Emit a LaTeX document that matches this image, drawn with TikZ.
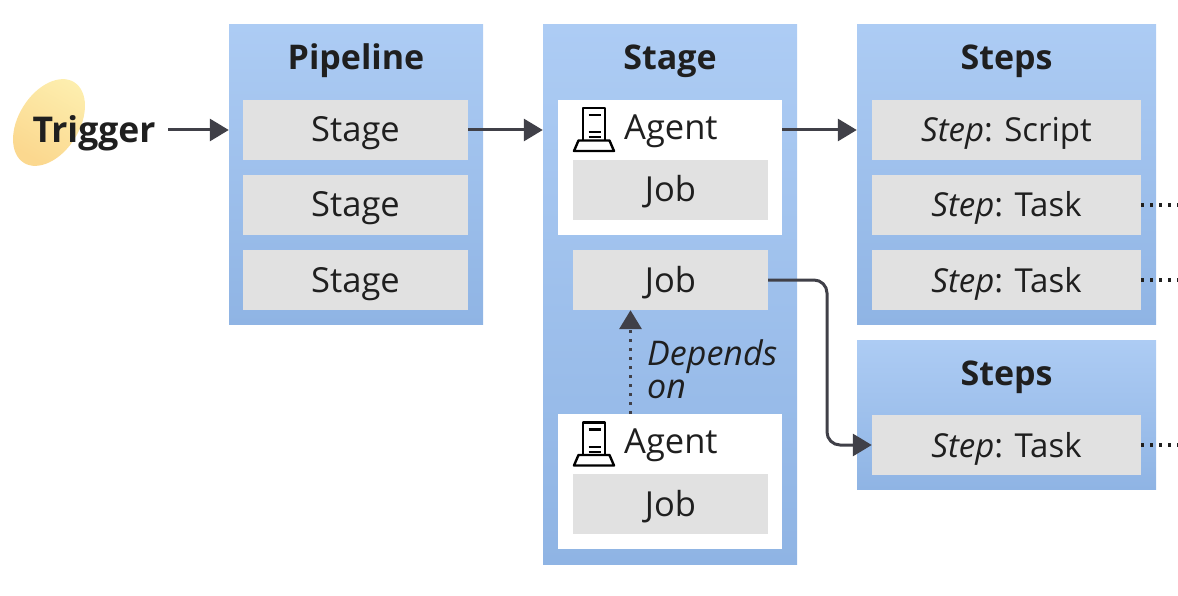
\documentclass[tikz,border=0pt]{standalone}
\usepackage{fontspec}
\setmainfont{Open Sans}
\usetikzlibrary{arrows.meta,shapes.geometric}
\definecolor{panelTop}{HTML}{ADCCF4}
\definecolor{panelBot}{HTML}{8FB4E4}
\definecolor{boxGray}{HTML}{E1E1E1}
\definecolor{inkDark}{HTML}{1F1F1F}
\definecolor{flowGray}{HTML}{404048}
\definecolor{blobLight}{HTML}{FDEEAE}
\definecolor{blobDeep}{HTML}{FBD88F}
\tikzstyle{panelbox} = [anchor=center, inner sep=0, top color=panelTop, bottom color=panelBot, draw=none]
\tikzstyle{whitebox} = [anchor=center, inner sep=0, fill=white, minimum width=224, minimum height=135]
\tikzstyle{graybox} = [anchor=center, inner sep=0, fill=boxGray, minimum height=60, text=inkDark, font={\fontsize{34.5}{38}\selectfont}, text height=29, text depth=5]
\tikzstyle{stepbox} = [graybox, minimum width=269, font={\fontsize{33}{38}\selectfont}]
\tikzstyle{titlelabel} = [anchor=center, inner sep=0, text=inkDark, font={\fontsize{34}{38}\bfseries\selectfont}, text height=29, text depth=5]
\tikzstyle{triggerlabel} = [titlelabel, font={\fontsize{35.5}{38}\bfseries\selectfont}, text height=30, text depth=5]
\tikzstyle{agentlabel} = [anchor=west, inner sep=0, text=inkDark, font={\fontsize{34.5}{38}\selectfont}, text height=28, text depth=5]
\tikzstyle{flow} = [draw=flowGray, line width=3, -{Triangle[length=19,width=22]}]
\tikzstyle{dotflow} = [flow, line width=3.5, dash pattern=on 3.5 off 5.5]
\tikzstyle{dotline} = [draw=inkDark, line width=3.2, dash pattern=on 3.2 off 5.8]
\tikzset{agenticon/.pic={
  \draw[line width=2.4, black, line join=round] (9.5,32.5) -- (9.5,0) -- (31.5,0) -- (31.5,32.5);
  \draw[line width=2.4, black, line join=round] (5,32.5) -- (36,32.5) -- (40.5,43) -- (0.5,43) -- cycle;
  \draw[line width=2.4, black] (15,7) -- (27,7);
  \draw[line width=2, black] (15,24.5) -- (27,24.5);
  \draw[line width=2, black] (15,29) -- (27,29);
}}

\begin{document}
\begin{tikzpicture}[x=1pt,y=-1pt]
  \useasboundingbox (0,0) rectangle (1178,596);

  \node[at={(49,122.5)}, ellipse, inner sep=0, minimum width=95, minimum height=60.6, rotate=58,
    draw=none, bottom color=blobDeep, top color=blobLight, shading angle=-30] (blob) {};
  \node[at={(94,130)}, triggerlabel, minimum width=148] (trigger) {Trigger};

  % pipeline
  \node[at={(356,174.5)}, panelbox, minimum width=254, minimum height=299] (pipeline) {};
  \node[at={(356,58)}, titlelabel] (pipelinetitle) {Pipeline};
  \node[at={(355.5,130)}, graybox, minimum width=225] (stagea) {Stage};
  \node[at={(355.5,205)}, graybox, minimum width=225] (stageb) {Stage};
  \node[at={(355.5,280)}, graybox, minimum width=225] (stagec) {Stage};

  % stage
  \node[at={(670,294.5)}, panelbox, minimum width=254, minimum height=539] (stage) {};
  \node[at={(670,58)}, titlelabel] (stagetitle) {Stage};
  \node[at={(670,167.5)}, whitebox] (agenta) {};
  \pic at (573.5,108) {agenticon};
  \node[at={(624,128)}, agentlabel] (agentatext) {Agent};
  \node[at={(670.5,190)}, graybox, minimum width=195] (joba) {Job};
  \node[at={(670.5,280)}, graybox, minimum width=195] (jobb) {Job};
  \node[at={(670,481.5)}, whitebox] (agentb) {};
  \pic at (573.5,422.5) {agenticon};
  \node[at={(624,442)}, agentlabel] (agentbtext) {Agent};
  \node[at={(670.5,504)}, graybox, minimum width=195] (jobc) {Job};
  \node[at={(647,369)}, anchor=west, inner sep=0, align=left, text=inkDark, font={\fontsize{34}{33}\selectfont\itshape}] (dependslabel) {Depends\\on};

  % steps
  \node[at={(1006.5,174.5)}, panelbox, minimum width=299, minimum height=299] (steps) {};
  \node[at={(1006.5,58)}, titlelabel] (stepstitle) {Steps};
  \node[at={(1006.5,130)}, stepbox] (stepa) {\textit{Step}: Script};
  \node[at={(1006.5,205)}, stepbox] (stepb) {\textit{Step}: Task};
  \node[at={(1006.5,280)}, stepbox] (stepc) {\textit{Step}: Task};
  \node[at={(1006.5,414.5)}, panelbox, minimum width=299, minimum height=149] (stepsb) {};
  \node[at={(1006.5,373)}, titlelabel] (stepsbtitle) {Steps};
  \node[at={(1006.5,445)}, stepbox] (stepd) {\textit{Step}: Task};

  \coordinate (dotb) at (1178,205);
  \coordinate (dotc) at (1178,280);
  \coordinate (dotd) at (1178,445);
  \coordinate (elbow) at (827,360);
  \coordinate (dependsfoot) at (630.5,414);

  \draw[flow] (trigger.east) -- (trigger.east -| pipeline.west);
  \draw[flow] (stagea.east) -- (stagea.east -| stage.west);
  \draw[flow] (agenta.east |- stagea.east) -- (stagea.east -| steps.west);
  \draw[flow, rounded corners=13] (jobb.east) -| (elbow) |- (stepd.west);
  \draw[dotflow] (dependsfoot) -- (dependsfoot |- jobb.south);
  \draw[dotline] (stepb.east) -- (dotb);
  \draw[dotline] (stepc.east) -- (dotc);
  \draw[dotline] (stepd.east) -- (dotd);
\end{tikzpicture}
\end{document}
